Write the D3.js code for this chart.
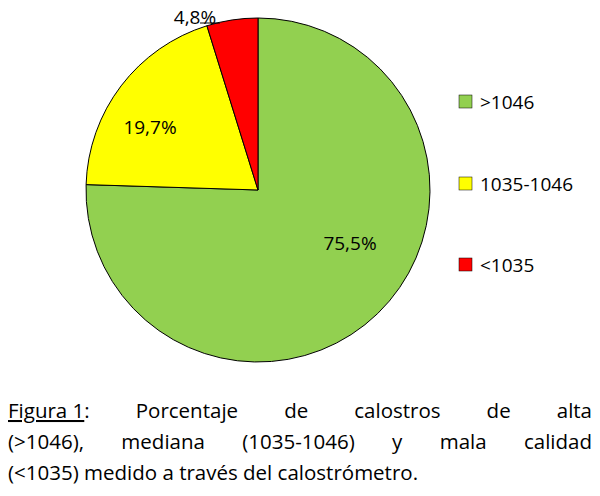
<!DOCTYPE html><html><head><meta charset="utf-8"><script src="https://d3js.org/d3.v7.min.js"></script>
<style>body{margin:0;background:#fff}</style></head><body><svg id="c" width="600" height="496"></svg>
<script>
const categories=[">1046","1035-1046","<1035"];
const values=[75.5,19.7,4.8];
const labels=["75,5%","19,7%","4,8%"];
const colors=["#92d050","#ffff00","#ff0000"];
const caption=[["Figura 1:","Porcentaje","de","calostros","de","alta"],["(>1046),","mediana","(1035-1046)","y","mala","calidad"]];
const lastLine="(<1035) medido a través del calostrómetro.";
const svg=d3.select("#c");
const F="'Open Sans','Liberation Sans',sans-serif";
const cx=258,cy=190,r=172;
const pie=d3.pie().sort(null)(values);
const arc=d3.arc().innerRadius(0).outerRadius(r);
const g=svg.append("g").attr("transform",`translate(${cx},${cy})`);
g.selectAll("path").data(pie).join("path").attr("d",arc).attr("fill",(d,i)=>colors[i]).attr("stroke","#000").attr("stroke-width",1);
const lab=[[92,60],[-108,-56],[-63,-166]];
g.selectAll("text.l").data(pie).join("text").attr("x",(d,i)=>lab[i][0]).attr("y",(d,i)=>lab[i][1]).attr("text-anchor","middle")
 .attr("font-family",F).attr("font-size",19).text((d,i)=>labels[i]);
g.append("line").attr("x1",-58).attr("y1",-167).attr("x2",-38).attr("y2",-167).attr("stroke","#000");
const ly=[103,185,266];
categories.forEach((c,i)=>{
 svg.append("rect").attr("x",459).attr("y",ly[i]-8).attr("width",13).attr("height",13).attr("fill",colors[i]).attr("stroke","#000").attr("stroke-width",0.5);
 svg.append("text").attr("x",480).attr("y",ly[i]+6).attr("font-family",F).attr("font-size",19).text(c);
});
const fs=20.5;
caption.forEach((words,li)=>{
 const y=418+li*31;
 const nodes=words.map(w=>{
  const t=svg.append("text").attr("y",y).attr("font-family",F).attr("font-size",fs);
  if(w==="Figura 1:"){t.append("tspan").attr("text-decoration","underline").text("Figura 1");t.append("tspan").text(":");}
  else t.text(w);
  return t;});
 const ws=nodes.map(n=>n.node().getComputedTextLength());
 const gap=(584-d3.sum(ws))/(words.length-1);
 let x=8;nodes.forEach((n,i)=>{n.attr("x",x);x+=ws[i]+gap;});
});
svg.append("text").attr("x",8).attr("y",480).attr("font-family",F).attr("font-size",fs).text(lastLine);
</script></body></html>
